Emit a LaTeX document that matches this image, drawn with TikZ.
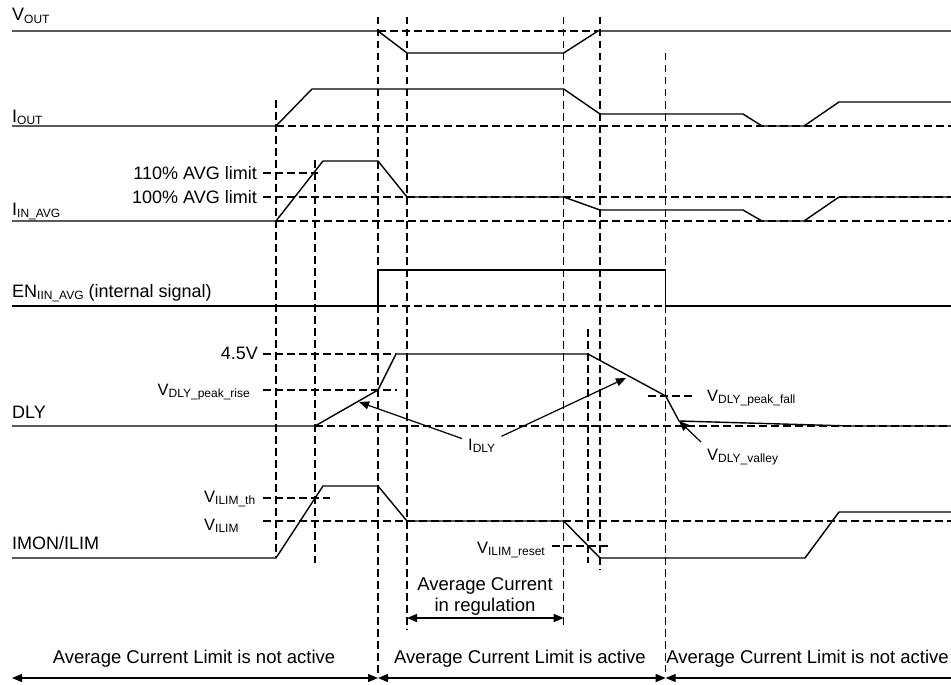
\documentclass[tikz,border=0pt]{standalone}
\usepackage{fontspec}
\setmainfont{Liberation Sans}
\usepackage{tikz}
\usetikzlibrary{arrows.meta, positioning}
\newcommand{\subsc}[1]{\raisebox{-2.5pt}{\fontsize{12}{14}\selectfont #1}}

\begin{document}
\begin{tikzpicture}[
    x=1pt, y=-1pt,
    sigline/.style={line width=1.4pt, line join=miter},
    guide/.style={line width=1.1pt, dash pattern=on 7.5pt off 4.5pt},
    siglabel/.style={inner sep=0pt, font=\fontsize{18}{21}\selectfont},
    lvl/.style={inner sep=0pt, font=\fontsize{18}{21}\selectfont},
    vlab/.style={inner sep=0pt, font=\fontsize{16.5}{19}\selectfont},
    phase/.style={inner sep=0pt, font=\fontsize{18.5}{21}\selectfont},
    arrow/.style={-{Triangle[length=10pt, width=8pt]}, line width=1.2pt},
    dblarrow/.style={{Triangle[length=10pt, width=8pt]}-{Triangle[length=10pt, width=8pt]}, line width=1.2pt},
    leftarrow/.style={{Triangle[length=10pt, width=8pt]}-, line width=1.2pt}
]
    \useasboundingbox (0,0) rectangle (951,685);

    % Vertical guides
    \draw[guide] (276,100) -- (276,557);
    \draw[guide] (315,160) -- (315,563);
    \draw[guide] (378,17) -- (378,677);
    \draw[guide] (407,17) -- (407,630);
    \draw[guide] (563.7,17) -- (563.7,628);
    \draw[guide] (588,329) -- (588,563);
    \draw[guide] (600,17) -- (600,570);
    \draw[guide] (665.7,53) -- (665.7,672);

    % Levels
    \draw[guide] (378,31) -- (598,31);
    \draw[guide] (276,126) -- (951,126);
    \draw[guide] (263,173) -- (318,173);
    \draw[guide] (263,197) -- (951,197);
    \draw[guide] (276,221) -- (951,221);
    \draw[guide] (378,306) -- (665.7,306);
    \draw[guide] (263,354) -- (396,354);
    \draw[guide] (263,390) -- (397,390);
    \draw[guide] (648,396) -- (695,396);
    \draw[guide] (315,426) -- (951,426);
    \draw[guide] (263,498) -- (330,498);
    \draw[guide] (263,521) -- (951,521);
    \draw[guide] (552,546) -- (608,546);

    % Signals
    \draw[sigline] (12,31) -- (378,31) -- (407,53) -- (563.7,53) -- (598,31) -- (951,31);
    \draw[sigline] (12,126) -- (276,126) -- (312,89) -- (563.7,89) -- (600,114) -- (743,114) -- (762,126) -- (804,126) -- (839,102) -- (951,102);
    \draw[sigline] (12,221) -- (276,221) -- (323,161) -- (378,161) -- (407,197) -- (563.7,197) -- (600,210) -- (743,210) -- (762,221) -- (804,221) -- (839,197) -- (951,197);
    \draw[sigline] (12,306) -- (378,306) -- (378,270) -- (665.7,270) -- (665.7,306) -- (951,306);
    \draw[sigline] (12,426) -- (315,426) -- (378,390) -- (396,354) -- (588,354) -- (665.7,396) -- (679,421) -- (850,426) -- (951,426);
    \draw[sigline] (12,558) -- (276,558) -- (323,486) -- (378,486) -- (407,521) -- (563.7,521) -- (600,558) -- (805,558) -- (839,512) -- (951,512);

    % Nodes
    \node[siglabel, anchor=base west] (vout) at (12,21) {V\subsc{OUT}};
    \node[siglabel, anchor=base west] (iout) at (12,122) {I\subsc{OUT}};
    \node[siglabel, anchor=base west] (iinavg) at (12,215) {I\subsc{IN\_AVG}};
    \node[siglabel, anchor=base west] (en) at (12,297) {EN\subsc{IIN\_AVG} (internal signal)};
    \node[siglabel, anchor=base west] (dly) at (12,418) {DLY};
    \node[siglabel, anchor=base west] (imon) at (12,549) {IMON/ILIM};

    \node[lvl, anchor=base east] (lim110) at (257,179) {110\% AVG limit};
    \node[lvl, anchor=base east] (lim100) at (257,203) {100\% AVG limit};
    \node[lvl, anchor=base east] (v45) at (258,359) {4.5V};
    \node[vlab, anchor=base east] (pkrise) at (250,395) {V\subsc{DLY\_peak\_rise}};
    \node[vlab, anchor=base west] (pkfall) at (707,401) {V\subsc{DLY\_peak\_fall}};
    \node[vlab, anchor=base west] (valley) at (707,460) {V\subsc{DLY\_valley}};
    \node[vlab, anchor=base west, inner sep=6pt] (idly) at (462,450) {I\subsc{DLY}};
    \node[vlab, anchor=base west] (ilimth) at (204,502) {V\subsc{ILIM\_th}};
    \node[vlab, anchor=base west] (ilim) at (204,530) {V\subsc{ILIM}};
    \node[vlab, anchor=base east] (ilimreset) at (545,553) {V\subsc{ILIM\_reset}};

    \node[phase, align=center] (regtext) at (485,596) {Average Current\\in regulation};
    \node[phase, anchor=base] (offleft) at (194,663) {Average Current Limit is not active};
    \node[phase, anchor=base] (active) at (520,663) {Average Current Limit is active};
    \node[phase, anchor=base east] (offright) at (949,663) {Average Current Limit is not active};

    \coordinate (risept) at (359,402);
    \coordinate (fallpt) at (626,378);
    \coordinate (valleytail) at (701,442);
    \coordinate (valleypt) at (679,421);
    \coordinate (regl) at (407,618);
    \coordinate (regr) at (563.7,618);
    \coordinate (t0) at (12,678);
    \coordinate (t1) at (378,678);
    \coordinate (t2) at (665.7,678);
    \coordinate (t3) at (951,678);

    % Arrows
    \draw[arrow] (idly) -- (risept);
    \draw[arrow] (idly) -- (fallpt);
    \draw[arrow] (valleytail) -- (valleypt);
    \draw[dblarrow] (regl) -- (regr);
    \draw[dblarrow] (t0) -- (t1);
    \draw[dblarrow] (t1) -- (t2);
    \draw[leftarrow] (t2) -- (t3);

\end{tikzpicture}
\end{document}
